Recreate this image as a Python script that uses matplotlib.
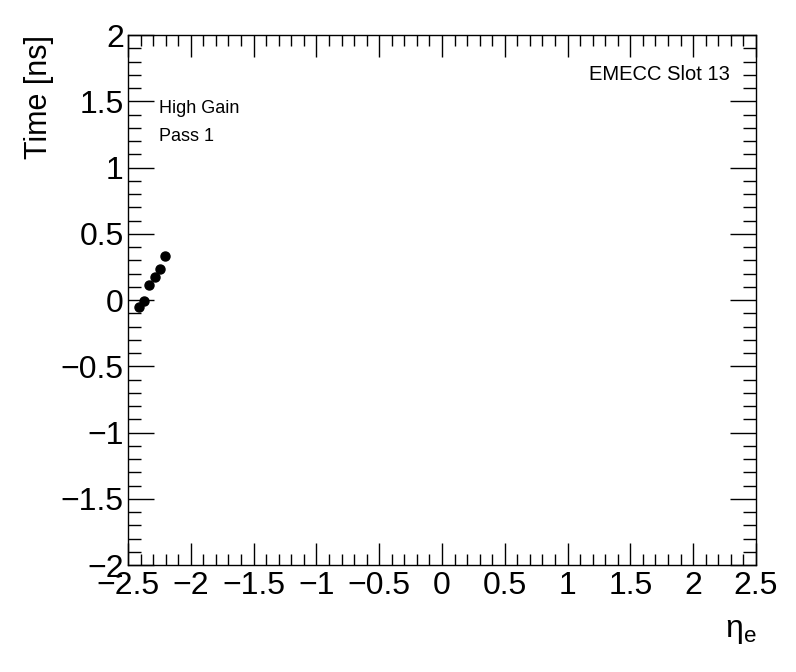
import matplotlib
matplotlib.use("Agg")
import matplotlib.pyplot as plt
from matplotlib.ticker import MultipleLocator

plt.rcParams['font.family'] = ['Liberation Sans', 'DejaVu Sans']
plt.rcParams['mathtext.fontset'] = 'custom'
plt.rcParams['mathtext.rm'] = 'Liberation Sans'
plt.rcParams['mathtext.it'] = 'Liberation Sans'

eta = [-2.41, -2.373, -2.33, -2.285, -2.245, -2.203]
time_ns = [-0.05, -0.008, 0.111, 0.171, 0.232, 0.332]
x_ticks = [-2.5, -2, -1.5, -1, -0.5, 0, 0.5, 1, 1.5, 2, 2.5]
y_ticks = [-2, -1.5, -1, -0.5, 0, 0.5, 1, 1.5, 2]

fig = plt.figure(figsize=(7.96, 6.72), dpi=100)
ax = fig.add_axes([0.1608, 0.1592, 0.7889, 0.7887])
ax.plot(eta, time_ns, 'o', color='black', markersize=6.5, linestyle='none')

def fmt(v):
    return ('%g' % v).replace('-', '\u2212')

ax.set_xticks(x_ticks)
ax.set_xticklabels([fmt(v) for v in x_ticks])
ax.set_yticks(y_ticks)
ax.set_yticklabels([fmt(v) for v in y_ticks])
ax.xaxis.set_minor_locator(MultipleLocator(0.1))
ax.yaxis.set_minor_locator(MultipleLocator(0.1))
ax.set_xlim(-2.5, 2.5)
ax.set_ylim(-2, 2)

ax.tick_params(which='both', direction='in', top=True, right=True, width=1, labelsize=23)
ax.tick_params(axis='x', which='major', length=16, pad=4)
ax.tick_params(axis='x', which='minor', length=8)
ax.tick_params(axis='y', which='major', length=19, pad=3)
ax.tick_params(axis='y', which='minor', length=9.5)
for sp in ax.spines.values():
    sp.set_linewidth(1)

fig.text(0.049, 0.9479, 'Time [ns]', rotation=90, ha='center', va='top', fontsize=22)
fig.text(0.951, 0.052, r'$\mathregular{\eta_{e}}$', ha='right', va='baseline', fontsize=23)

ax.text(0.05, 0.862, 'High Gain', transform=ax.transAxes, fontsize=13, ha='left', va='center')
ax.text(0.05, 0.809, 'Pass 1', transform=ax.transAxes, fontsize=13, ha='left', va='center')
ax.text(0.958, 0.925, 'EMECC Slot 13', transform=ax.transAxes, fontsize=14.5, ha='right', va='center')

fig.savefig('out.png', dpi=100)
